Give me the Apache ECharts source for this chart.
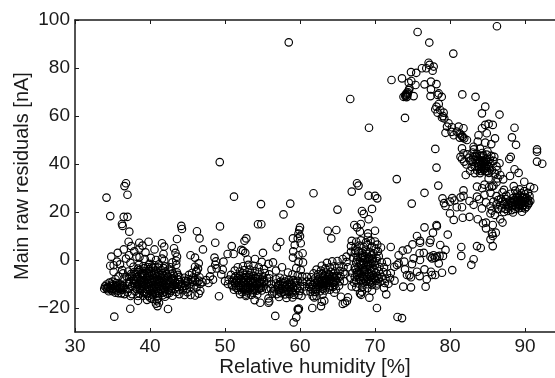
<!DOCTYPE html>
<html>
<head>
<meta charset="utf-8">
<style>
  html, body { margin: 0; padding: 0; background: #fff; }
  #chart { width: 555px; height: 378px; }
</style>
<script src="https://cdn.jsdelivr.net/npm/echarts@6/dist/echarts.min.js"></script>
</head>
<body>
<div id="chart"></div>
<script>
// values, [humidity, residual]
const xTicks = [30, 40, 50, 60, 70, 80, 90]
const yTicks = [-20, 0, 20, 40, 60, 80, 100]

const sparseTop = [
  [58.5, 90.7], [49.3, 40.8], [51.2, 26.4], [36.8, 32], [36.6, 30.8], [37, 27.2], [34.2, 26], [54.8, 23.3],
  [57.8, 19], [61.8, 27.8], [66.9, 28.5], [67.6, 32], [67.8, 31], [69.15, 26.8], [70, 26.7], [70.3, 25.7],
  [72.9, 33.7], [66.7, 67.1], [69.2, 55.1], [74, 59.2], [74.9, 23.5], [76.6, 28], [78.44, 31], [78.2, 38.5],
  [78.04, 46.3], [69.6, 21.3], [68.26, 20.4], [68.5, 19.2], [69.15, 17], [65, 21], [58.7, 23.5]
]
const upperArc = [
  [86.26, 97.4], [75.68, 95], [77.24, 90.6], [80.44, 86], [77.15, 82.2], [76.84, 79.9], [76.26, 79.9], [77.82, 80.6],
  [77.68, 78.9], [77.28, 81.3], [74.8, 78.3], [75.5, 78], [73.6, 75.7], [72.2, 75], [74.84, 74.6], [74.5, 73.9],
  [75.4, 72.9], [76.6, 73.2], [77.46, 74.3], [78.2, 73.3], [77.46, 71.1], [78.5, 69.4], [77.4, 68.3], [78.9, 68],
  [78.35, 68.8], [74.5, 70.8], [74.26, 69.7], [74.04, 68.3], [73.8, 68], [75.15, 68.3], [74.35, 69.2], [74.6, 71.5],
  [74.2, 67.8], [74.1, 69], [81.64, 69], [83.4, 68], [84.7, 63.9], [84.26, 61.1], [86.6, 60.6], [78.5, 65],
  [78.2, 63.9], [78.04, 62.8], [78.7, 62.5], [79.15, 61.4], [78.35, 61.4], [78.93, 59.4], [79.24, 59], [79.06, 60],
  [79.8, 57], [79.6, 55.6], [80.26, 55.3], [81.15, 55.6], [81.8, 54.9], [79.4, 53], [80.5, 52], [81.3, 52.8],
  [81.6, 51.7], [81.9, 50.7], [82.26, 50], [80.9, 53.5], [81.4, 52.3], [81.7, 51.2], [81.3, 51], [80.2, 53.4],
  [84.26, 54.9], [84.7, 56.3], [85.15, 56.7], [85.7, 56.3], [84.9, 52.8], [83.8, 52], [86, 50.7], [88.6, 55.1],
  [88.26, 51.1], [88.8, 48], [84.7, 48.9], [85.5, 48.3], [83.7, 49.3], [83.15, 47.2], [81.6, 46.5], [91.6, 46.1],
  [91.6, 45.1], [88.1, 43], [87.9, 42.1], [91.6, 41], [92.3, 40.1]
]
const knee = [
  [86.6, 40.3], [88.6, 37.8], [89.15, 36.3], [88, 35], [86.3, 37.5], [86.35, 34], [85.15, 34], [82.1, 35.4],
  [82.7, 37.2], [81.4, 43], [81.8, 44.4], [81.6, 42.1], [82.3, 44], [83.2, 46.1], [85, 45.2], [84, 46.4],
  [82.5, 42.6], [83, 44.8], [83.6, 44.2], [84.3, 44.6], [84.9, 43.9], [85.5, 43.4], [83.1, 42.8], [83.7, 42.2],
  [84.2, 42.7], [84.8, 41.8], [85.3, 42], [85.8, 41.3], [83, 40.9], [83.5, 40.4], [84, 40.9], [84.4, 40.2],
  [84.9, 40], [85.4, 39.9], [83.3, 39], [83.8, 38.8], [84.3, 38.6], [84.8, 38.3], [85.2, 38.6], [83.6, 37.4],
  [84.1, 37.1], [84.7, 37], [85.6, 37.4], [86, 36], [83.3, 36.2], [82.9, 38.8], [85.9, 43], [86.2, 39],
  [86.7, 35.4], [87.1, 33.6], [86.2, 32.4], [85.8, 31], [85.2, 30.4], [84.6, 31.4],
  [83.9, 41.5], [84.5, 41.2], [84.1, 39.7], [84.6, 39.3], [83.7, 39.8], [84.2, 37.9], [84.9, 36.9], [84.4, 43.5],
  [83.4, 43.4], [85.1, 40.9], [83.4, 41.6], [84, 36.2], [85.2, 36.3], [82.7, 41.4], [82.2, 39.8], [81.9, 41]
]
const rightBlob = [
  [81.8, 29], [83.6, 30.6], [84.3, 29.9], [85.6, 30.6], [87.2, 29.2], [88.5, 30.8], [89.9, 32.6], [90.7, 30.5],
  [91.2, 29.9], [79, 25.7], [80.3, 25.8], [81.4, 26.1], [81.8, 26.7], [83.6, 26.4], [84.6, 27.2], [85.4, 28],
  [86.2, 26.6], [87, 28.2], [87.5, 26.8], [88.1, 27.6], [88.7, 28.9], [89.3, 29.4], [89.9, 28.7], [90.4, 28],
  [86.4, 25], [87, 24.4], [87.5, 25.3], [88, 24.7], [88.4, 25.8], [88.9, 26.3], [89.3, 26.9], [89.8, 26.2],
  [90.2, 25.8], [90.6, 26.6], [86.2, 23.2], [86.7, 22.8], [87.2, 23.3], [87.7, 23.1], [88.1, 23.7], [88.6, 24.2],
  [89, 24.6], [89.4, 25], [89.8, 24.6], [90.3, 24.4], [90.7, 24.6], [86.4, 21.2], [86.9, 21.6], [87.4, 21.3],
  [87.8, 21.9], [88.3, 22.4], [88.7, 22.7], [89.1, 23.2], [89.5, 23.6], [89.9, 23], [90.4, 23.1], [87.2, 20],
  [87.7, 20.4], [88.2, 20.8], [88.7, 21.3], [89.2, 21.6], [89.6, 21.8], [90, 21.5], [88.4, 19.8], [89.6, 20.1],
  [85.8, 24.3], [85.4, 22.4], [85.6, 20.6], [85.4, 19.4], [86, 18.8], [79.4, 22.5], [79.2, 23.7], [80, 24.3],
  [80.9, 22], [81.6, 22], [83.15, 23], [84.26, 21.5], [82.6, 24.6], [80.6, 24.8], [84.8, 24], [83.9, 25.3],
  [88.9, 25], [89.2, 24.2], [89.6, 26], [90, 25.2], [89.2, 22.6], [89.7, 22.4], [90.2, 22.2], [88.9, 27.6],
  [89.5, 27.8], [90, 27.4], [88.4, 23], [88.9, 23.6], [87.4, 24.1], [86.8, 25.6], [90.5, 23.8], [90.4, 25.2]
]
const midRight = [
  [80.5, 16.7], [81.7, 17.6], [82.6, 18], [80, 19.4], [83.7, 17], [84.8, 15.6], [84.4, 15.3], [85.7, 14.6],
  [84.8, 13.2], [86.7, 17], [87, 15.6], [86.1, 11.4], [85.6, 11], [85.7, 10], [85.4, 8.6], [85.7, 5.8],
  [76.6, 13.6], [78.2, 14.6], [78.25, 14.1], [77.73, 11.4], [79.7, 10.6], [75.6, 10], [76, 8], [76, 7.2],
  [77.4, 8.3], [77.3, 7.2], [72.1, 5.4], [78.7, 6.25], [79.4, 4.2], [75, 6.5], [74.35, 4.4], [73.7, 3.9],
  [73.15, 2], [81.5, 5.4], [81.5, 1.7], [83.6, 5.8], [84.1, 5], [83.15, 0.3], [82.84, -2], [75.95, 2.8],
  [76.5, 3], [77.4, 1.4], [77.8, 2], [78.26, 1.4], [78.6, 1.7], [79.06, 1.7], [78, 0.9], [77.6, 0.7],
  [78.5, -1.4], [75.15, 0.7], [76, 0], [74.93, -1.7], [73.9, -0.7], [73.15, -1.4], [72.93, -2.1], [72.57, -2.8],
  [74, -3.9], [74.26, -6.25], [74.6, -6.4], [74.8, -7.2], [75.6, -4.9], [75.95, -6.7], [76.6, -3.9], [76.9, -8],
  [77.46, -4.9], [77.6, -6.25], [78.04, -6.25], [78.93, -5.3], [80.3, -4.2], [73.77, -11.1], [74.8, -11.4], [76.75, -11.1],
  [70.26, -20], [73, -23.75], [73.6, -24.2], [71.5, -14.3], [69.25, -15.7], [69.6, -12.8], [68, -13.9], [68.15, -14.5],
  [68.26, -13.2], [61.64, -20], [62.8, -19.2], [63.24, -17], [62.9, -17.4], [61.9, -15.6], [61.7, -15], [64.57, -13.6],
  [65.46, -15.3], [66.4, -15.6], [65.7, -18.3], [66, -17.8], [66.26, -17.1], [67.24, 14.6], [68.1, 15], [67.6, 13.6],
  [68, 11.8], [69.06, 11.1], [69.06, 9.7], [70, 12.2], [63.7, 12.2], [64.84, 12.5], [64.17, 9]
]
const blob70 = [
  [66.9, 8], [67.5, 7.6], [68.1, 8.2], [68.8, 7.4], [69.4, 8], [70, 7.7], [70.3, 6.4], [66.8, 5.8],
  [67.4, 5.2], [67.9, 6], [68.5, 5.4], [69, 6.2], [69.6, 5.6], [70.1, 4.8], [70.4, 3.6], [66.8, 3.4],
  [67.3, 2.8], [67.8, 3.7], [68.3, 3], [68.8, 3.9], [69.3, 3.2], [69.8, 2.8], [70.5, 1.6], [67.1, 1],
  [67.7, 1.4], [68.2, 0.8], [68.7, 1.6], [69.2, 1], [69.7, 0.6], [70.2, -0.4], [70.9, -1], [67.5, -1],
  [68, -0.6], [68.5, -1.3], [69, -0.7], [69.5, -1.5], [70, -2], [70.6, -2.9], [71.2, -3], [67.3, -3.2],
  [67.8, -2.9], [68.4, -3.5], [68.9, -2.9], [69.4, -3.6], [69.9, -4], [70.5, -4.6], [71.1, -5], [71.6, -5.8],
  [67, -5.4], [67.6, -5], [68.1, -5.7], [68.6, -5.1], [69.2, -5.8], [69.7, -6.2], [70.3, -6.6], [70.9, -7],
  [71.4, -7.8], [72, -7.6], [66.7, -7.4], [67.3, -7.1], [67.9, -7.8], [68.4, -7.2], [69, -8], [69.5, -8.4],
  [70.1, -8.6], [70.7, -9], [71.3, -9.6], [71.8, -9.9], [67.2, -9.4], [67.8, -9.8], [68.4, -9.4], [69, -10.1],
  [69.6, -10.4], [70.2, -10.6], [66.9, -11], [67.5, -11.3], [68.3, -11.2], [69, -11.7], [71.2, -11.6], [72.6, -8.6],
  [66.4, -3], [66.2, 1.4], [66, -5.8], [70.8, 5.2], [71.6, -0.8], [72.1, -5.4],
  [67.6, 0.1], [68.1, -2], [68.6, 0.2], [69.1, -1.9], [69.6, -0.4], [67.9, -4.4], [68.7, -4.2], [69.4, -4.8],
  [70.1, -5.3], [67.6, -6.2], [68.3, -6.6], [69, -6.9], [69.8, -7.4], [70.5, -7.8], [68.1, -8.6], [68.8, -9],
  [69.5, -9.4], [70.3, -9.8], [67.5, -8.5], [68.9, 2.5], [68.3, 1.9], [69.5, 1.9], [70.2, 0.8], [67.4, 4]
]
const blob64 = [
  [62.9, -2.4], [63.6, -1.2], [64.3, -0.6], [65, -0.4], [65.7, 0.4], [66.2, -0.8], [62.2, -4], [62.8, -4.4],
  [63.4, -3.5], [64, -3], [64.6, -2.6], [65.2, -2.7], [65.8, -3], [61.8, -5.6], [62.4, -6], [63, -5.8],
  [63.5, -5.2], [64.1, -4.9], [64.7, -4.8], [65.3, -4.6], [65.8, -5], [61.5, -7.2], [62, -7.7], [62.6, -7.8],
  [63.2, -7.4], [63.7, -7], [64.3, -6.8], [64.9, -6.6], [65.4, -6.8], [60.9, -9], [61.4, -9.2], [62, -9.6],
  [62.6, -9.4], [63.1, -9], [63.6, -8.8], [64.2, -8.7], [64.8, -8.6], [65.3, -8.9], [65.9, -8.8], [60.6, -11],
  [61.2, -11.2], [61.8, -11.4], [62.4, -11.2], [63, -11], [63.5, -10.6], [64, -10.7], [64.6, -10.4], [65.2, -10.7],
  [60.8, -13], [61.4, -13.2], [62, -13.3], [62.7, -13], [63.3, -12.7], [64, -12.4], [64.8, -12.2], [63, -14.4],
  [62.2, -15],
  [63.1, -6.6], [63.8, -5.9], [64.5, -5.6], [62.3, -8.6], [62.9, -8.3], [63.5, -8], [64.1, -7.8], [64.7, -7.6],
  [61.7, -10.3], [62.3, -10.2], [62.8, -10.1], [63.3, -9.9], [63.9, -9.7], [64.5, -9.5], [61.5, -12.2], [62.1, -12.3]
]
const blob58 = [
  [59.1, 3.6], [59.8, 2], [60.4, -1], [59.5, -3.4], [60.1, -4.2], [58.4, -5.2], [59, -6], [59.7, -6.4],
  [60.3, -6.8], [60.9, -7], [56.8, -8], [57.3, -7.4], [57.9, -7.8], [58.5, -8.3], [59.1, -8.4], [59.7, -8.7],
  [60.3, -9], [56.2, -10], [56.8, -9.8], [57.3, -10], [57.8, -9.6], [58.3, -10.3], [58.9, -10.4], [59.4, -10.7],
  [60, -10.9], [56.1, -11.8], [56.6, -12.2], [57.2, -11.8], [57.7, -12], [58.3, -12.3], [58.8, -12.2], [59.4, -12.6],
  [60, -12.9], [56.3, -14], [56.9, -14.2], [57.5, -13.8], [58, -14.3], [58.6, -14.2], [59.2, -14.5], [59.8, -14.6],
  [57.2, -15.4], [58.2, -15.8], [59, -15.6], [60.2, -15], [56.8, -4.4], [57.6, -3], [55.9, -7.6], [59.7, -20.4],
  [59.75, -20.8], [59.85, -20.2], [59.5, -23.9], [59.15, -26], [56.7, -23.3], [60, 13.6], [59.9, 12.5], [59.8, 11],
  [59.06, 9], [59.7, 9], [60, 10], [59.3, 6.25], [60.1, 7], [60.35, 2.8], [59.06, 1], [59.8, -0.7],
  [57, -11], [57.6, -11], [58.1, -11.2], [58.6, -11.3], [59.1, -11.4], [57.4, -9], [58, -9], [58.6, -9.4],
  [59.2, -9.5], [56.5, -13.1], [57.2, -13], [57.9, -13.2], [58.5, -13.3], [59.1, -13.5]
]
const blob53 = [
  [54.84, 14.9], [54.4, 14.9], [52.84, 9], [52.6, 8], [57.37, 7.5], [56.9, 5.3], [55.06, 3], [52.17, 4.2],
  [52.7, 3], [52.4, 3.8], [54, 0.4], [54.9, -0.8], [55.8, -1.6], [56.4, -1], [53, 0.2], [51.7, -3],
  [52.4, -2.6], [53.1, -2], [53.8, -2.4], [54.5, -3], [55.2, -3.8], [51.3, -4.4], [52, -4.8], [52.6, -4.2],
  [53.3, -4], [54, -4.6], [54.6, -5], [55.3, -5.4], [55.9, -6], [50.8, -6.2], [51.4, -6.8], [52, -6.6],
  [52.6, -6.2], [53.2, -6.4], [53.8, -6.6], [54.4, -7], [55, -7.2], [55.6, -7.6], [50.5, -8.2], [51, -8.6],
  [51.6, -8.4], [52.2, -8.6], [52.8, -8.4], [53.4, -8.7], [54, -8.8], [54.6, -9.2], [55.2, -9.2], [50.4, -10],
  [50.9, -10.3], [51.5, -10.6], [52.1, -10.4], [52.7, -10.6], [53.3, -10.4], [53.9, -10.9], [54.5, -11], [55.1, -11],
  [51.2, -12.4], [51.8, -12.6], [52.4, -12.3], [53, -12.8], [53.6, -12.6], [54.2, -12.8], [54.9, -12.7], [52, -14.2],
  [52.8, -14.4], [53.5, -14.6], [54.3, -14.4], [52.8, -15], [54.7, -17.8], [53.95, -16.7], [55.8, -17.8], [55.9, -17.2],
  [55.8, -16], [49.8, -0.7], [48.7, -2], [48.9, -3.5], [49.5, -6], [50, -8.8], [49.7, -4],
  [51.8, -7.6], [52.5, -7.5], [53.1, -7.4], [53.7, -7.6], [54.3, -8], [54.9, -8.2], [51.3, -9.5], [51.9, -9.6],
  [52.5, -9.5], [53.1, -9.5], [53.7, -9.7], [54.3, -10], [54.9, -10.1], [51.5, -11.5], [52.1, -11.6], [52.8, -11.6],
  [53.4, -11.6], [54, -11.9], [54.6, -11.9], [52.3, -13.4], [53, -13.5], [53.7, -13.6], [55.5, -12], [55.6, -9.8]
]
const gap47 = [
  [49.2, -15.1], [47.06, 4.4], [48.7, 7.2], [49.33, 14], [50.9, 5.8], [50.35, 2.5], [51.15, 2.5], [48.6, 1],
  [46.26, 12], [46.6, 9], [48.2, -4], [48, -6.8], [47.5, -8.4], [48.4, -8.2], [47, -9.2], [46.6, -7.2],
  [46.2, -4.6], [45.4, 2], [46, 1], [46.5, -1.4], [46, -2.8], [46.4, -3.6], [46.2, -5], [45.6, -5.4],
  [45.2, -6.2], [45.8, -7.2], [45.1, -8], [45.7, -9], [46.3, -9.2], [46.7, -9.9], [45.3, -10], [44.8, -9.6],
  [45.9, -10.6], [46.2, -11.4], [48.8, -0.6], [47.8, -9.6], [45, -8.9], [45.5, -8.2], [46, -8.4], [44.7, -10.8],
  [45.4, -11.2], [46.5, -8.6]
]
const blob40 = [
  [38.6, 1.2], [39.3, 0.4], [40.1, 0.9], [40.8, 0], [41.6, 0.6], [37.8, -2.8], [38.5, -2], [39.1, -2.6],
  [39.9, -1.6], [40.6, -2.2], [41.2, -1.8], [42, -2.6], [42.7, -3], [37.1, -4.8], [37.9, -5], [38.6, -4.2],
  [39.4, -4.6], [39.9, -3.8], [40.7, -4.4], [41.5, -4.2], [42.1, -4.8], [42.9, -4.6], [43.6, -5.2], [36.9, -7],
  [37.6, -6.6], [38.3, -7.2], [39, -6.4], [39.7, -6.8], [40.3, -6.2], [41, -6.7], [41.8, -6.4], [42.4, -6.9],
  [43.2, -6.5], [43.9, -7], [44.6, -7.4], [37.2, -9.2], [37.9, -8.6], [38.6, -9], [39.2, -8.4], [39.9, -9],
  [40.6, -8.6], [41.2, -8.9], [41.9, -8.5], [42.6, -9], [43.3, -8.8], [44, -9.2], [44.7, -8.7], [37.6, -10.8],
  [38.3, -11.2], [38.9, -10.5], [39.6, -11], [40.2, -10.6], [40.9, -11], [41.5, -10.6], [42.2, -11], [42.9, -10.8],
  [43.6, -11.2], [44.3, -11], [38, -13], [38.7, -12.6], [39.4, -13.2], [40, -12.8], [40.7, -13], [41.4, -12.7],
  [42, -13.2], [42.8, -12.9], [43.5, -13.3], [39.1, -14.9], [39.8, -15], [40.4, -14.6], [41, -15], [41.7, -14.7],
  [39.6, -16.6], [40.3, -16.2], [40.9, -16.8], [41.2, -17.8], [40.8, -18.2], [37.4, -1.2], [41.9, -0.2], [43, -1],
  [36.9, -9.6], [39, -5.4], [40.2, -5.2], [41.1, -5.4], [38.4, -8], [39.5, -7.6], [40.5, -7.6], [41.5, -7.7],
  [38, -9.9], [39.2, -9.8], [40.4, -9.8], [41.7, -9.7], [42.8, -7.8], [43.7, -10.1], [38.9, -12], [40.3, -11.9],
  [41.3, -12], [36.5, -7.8], [36.3, -4.2], [44.4, -12.6], [44.9, -12.2], [45, -13.4], [43.9, -14.2], [44.6, -14.6],
  [45.4, -14.6], [46, -14.8], [46.5, -14], [46.7, -12.8], [43, -14.9], [42, -15.3], [38.4, -15], [37.6, -14.2],
  [39.7, -3], [40.4, -3.3], [41.1, -3.2], [38.8, -5.8], [39.6, -5.6], [40.6, -5.7], [41.6, -5.6], [37.8, -7.9],
  [38.9, -7.4], [40, -7.8], [41, -7.9], [42, -7.5], [43.1, -7.7], [37.3, -10], [38.6, -10], [39.8, -10],
  [41, -10], [42.2, -9.8], [43.1, -10], [38.6, -11.8], [39.6, -12.1], [40.8, -12.1], [41.9, -12.1], [42.9, -12],
  [43.9, -12.3], [39.2, -13.8], [40.3, -13.9], [41.2, -13.8], [42.3, -14.1], [40, -15.7], [41.1, -16], [39.9, -4.6],
  [40.2, -8.4], [39, -9.1], [41.4, -9.2], [42.5, -10.2], [38.2, -6], [43.4, -9.7]
]
const denseCores = [
  [38.4, -3.6], [39.2, -3.4], [40.2, -2.8], [41.8, -3.4], [42.5, -4], [37.5, -5.8], [38.2, -5.1], [39.3, -5.9],
  [40, -6.6], [40.8, -6.1], [41.4, -6.3], [42.2, -6], [43, -5.6], [43.7, -6.2], [37.2, -8], [38.1, -7.2],
  [38.8, -8.3], [39.6, -8.3], [40.3, -9.1], [41, -8.4], [41.7, -8.9], [42.3, -8.3], [43, -8.3], [43.8, -8.2],
  [37.8, -9.6], [38.4, -10.4], [39.1, -10.9], [39.7, -9.5], [40.7, -10.3], [41.3, -10.9], [41.9, -10.3], [42.6, -11.4],
  [43.3, -10.5], [44.2, -9.9], [38.2, -12.2], [39, -13.1], [39.8, -11.4], [40.5, -12.4], [41.1, -12.9], [41.7, -11.4],
  [42.5, -12.5], [43.3, -12.2], [44.1, -10.7], [38.6, -13.9], [39.6, -14.2], [40.7, -14.1], [41.7, -13.6], [42.6, -13.7],
  [52.1, -7.9], [52.8, -7.1], [53.5, -8], [54.1, -7.4], [51.6, -9], [52.4, -9.1], [53.1, -8.9], [53.7, -9.2],
  [54.5, -9.7], [55.2, -8.6], [51.8, -10.9], [52.4, -11], [53, -11.1], [53.6, -11.2], [54.2, -10.4], [54.8, -11.5],
  [52.7, -12.4], [53.3, -12.2], [53.9, -12.5], [54.5, -12.2], [51, -10.9], [51.2, -7.6], [52.4, -5.4], [53.4, -5.5],
  [58, -10.5], [58.7, -10], [59.5, -9.4], [57.4, -12.4], [58.1, -12.8], [58.9, -13], [59.6, -11.7], [57.1, -10.4],
  [63.4, -8.6], [64, -8.3], [64.6, -9], [62.4, -9], [63, -9.6], [63.6, -9.4], [62.6, -10.6], [63.2, -10.6],
  [63.8, -11.4], [62.2, -11.9], [63, -12], [61.3, -10.1], [64.4, -11.2], [63.9, -6.5], [64.5, -7],
  [68.2, -1.4], [68.8, -2.2], [69.3, -2.5], [67.8, -5.4], [68.5, -4.6], [69, -5.2], [69.5, -6.9], [70.2, -7.2],
  [68.6, -7.8], [69.2, -9], [68, -7.2], [67.4, -4], [69.8, -1], [70, -8], [68.4, 1.2], [69, 0.4],
  [84.3, 41.3], [83.8, 40.3], [84.7, 40.7], [83.9, 38], [84.5, 37.6], [85, 39.2], [83.5, 42.9], [84.1, 43.4],
  [88.6, 25], [89.1, 25.7], [89.5, 24.3], [90, 24], [88.8, 22.2], [89.4, 22.9], [87.9, 22.6], [88.2, 24.1],
  [74.15, 68.6], [74.4, 69.9], [74.3, 68.1]
]
const leftEdge = [
  [34.2, -10.2], [34.6, -9.4], [35, -9], [35.5, -9.6], [36, -9.9], [34, -11], [34.4, -11.2], [34.8, -10.8],
  [35.2, -10.6], [35.6, -11], [36, -11.3], [36.4, -10.8], [33.9, -12], [34.3, -12.2], [34.7, -11.9], [35.1, -12],
  [35.5, -12.3], [35.9, -12.1], [36.3, -12.4], [36.7, -12.2], [34.5, -13], [35, -13], [35.4, -13.6], [35.8, -13.8],
  [36.2, -13.9], [36.6, -14.2], [37, -13.4], [37.4, -15], [37.1, -12], [35.24, -23.6], [37.37, -20.3], [41, -19.2],
  [42.4, -20.4], [38.4, -17], [34.7, 18.3], [36.5, 18], [37, 18], [36.26, 15], [36.35, 14.2], [37.24, 11.8],
  [44.17, 14.2], [44.26, 12.9], [43.6, 8.75], [39.8, 7.6], [38.57, 7.2], [37.15, 7.6], [37.5, 5.8], [36.5, 4.4],
  [35.7, 3], [34.84, 1.4], [34.7, -2.4], [35.15, -2.2], [35.6, -0.7], [35.15, -4.9], [41.6, 7], [40.6, 4.4],
  [43.2, 4.9], [43.4, 3], [41.9, 5.6], [41.8, 2.5], [43.6, 1.4], [43.5, -0.3], [43.5, -2], [37.9, 3.6],
  [38.6, 4.8], [39.4, 3.2], [39, 6], [38.2, 1.4], [37.2, 2], [36.8, 0.6], [36, -1.8], [36.4, -5.6],
  [35.8, -6.8], [35.4, -8], [34.6, -11.6], [35.3, -11.4], [35.9, -11.7], [36.5, -11.6], [35, -10.1], [35.6, -10.4],
  [36.2, -10.5], [34.2, -11.7], [34.9, -12.6], [35.7, -12.8]
]

const points = [].concat(sparseTop, upperArc, knee, rightBlob, midRight, blob70, blob64, blob58, blob53, gap47, blob40, denseCores, leftEdge)

const chart = echarts.init(document.getElementById('chart'), null, { renderer: 'canvas' })
const font = 'Liberation Sans'
const axisLine = { show: true, onZero: false, lineStyle: { color: '#1a1a1a', width: 1.5 } }

chart.setOption({
  animation: false,
  backgroundColor: '#fff',
  grid: { left: 75, right: 0, top: 20, bottom: 46, outerBoundsMode: 'none' },
  xAxis: [{
    type: 'value',
    position: 'bottom',
    min: 30,
    max: 94,
    name: 'Relative humidity [%]',
    nameLocation: 'middle',
    nameMoveOverlap: false,
    nameGap: 25,
    nameTextStyle: { fontFamily: font, fontSize: 20.5, color: '#1a1a1a' },
    splitLine: { show: false },
    axisLine: axisLine,
    axisTick: { inside: true, length: 4, customValues: xTicks, lineStyle: { color: '#1a1a1a' } },
    axisLabel: { customValues: xTicks, margin: 5, fontFamily: font, fontSize: 19, color: '#1a1a1a' }
  }, {
    type: 'value',
    position: 'top',
    min: 30,
    max: 94,
    splitLine: { show: false },
    axisLine: axisLine,
    axisTick: { inside: true, length: 4, customValues: xTicks, lineStyle: { color: '#1a1a1a' } },
    axisLabel: { show: false }
  }],
  yAxis: {
    type: 'value',
    min: -30,
    max: 100,
    name: 'Main raw residuals [nA]',
    nameLocation: 'middle',
    nameMoveOverlap: false,
    nameGap: 43,
    nameTextStyle: { fontFamily: font, fontSize: 20, color: '#1a1a1a' },
    splitLine: { show: false },
    axisLine: axisLine,
    axisTick: { inside: true, length: 4, customValues: yTicks, lineStyle: { color: '#1a1a1a' } },
    axisLabel: {
      customValues: yTicks,
      margin: 5,
      fontFamily: font,
      fontSize: 19,
      color: '#1a1a1a',
      formatter: function(v) { return String(v).replace('-', '\u2212') }
    }
  },
  series: [{
    type: 'scatter',
    xAxisIndex: 0,
    symbol: 'circle',
    symbolSize: 7.5,
    silent: true,
    clip: false,
    itemStyle: { color: 'transparent', borderColor: '#000', borderWidth: 1.15, opacity: 1 },
    data: points
  }]
})
</script>
</body>
</html>
